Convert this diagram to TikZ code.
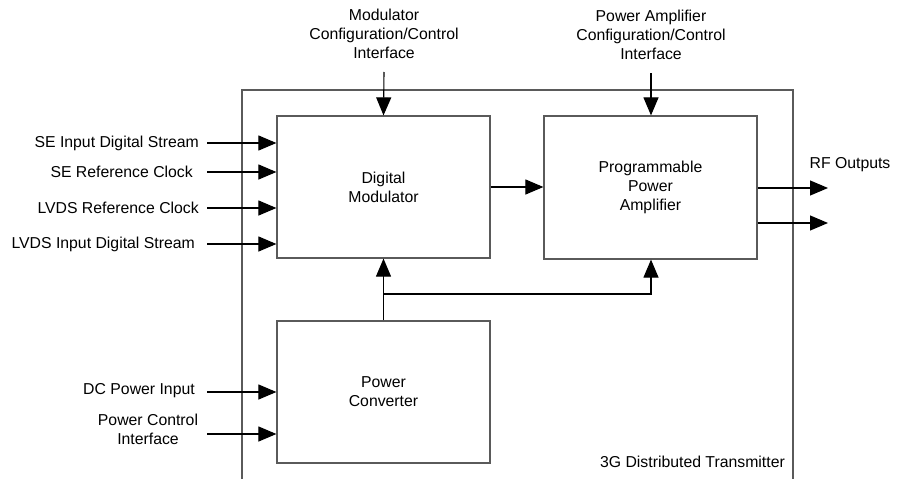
\documentclass[tikz,border=0pt]{standalone}
\usepackage{fontspec}
\setmainfont{Liberation Sans}
\usetikzlibrary{arrows.meta}
\definecolor{boxgray}{HTML}{5A5A5A}
\newcommand{\labelfont}{\fontsize{15.8}{19}\selectfont}
\begin{document}
\begin{tikzpicture}[x=1pt,y=-1pt,
  blk/.style={draw=boxgray, line width=1.2pt, minimum width=213pt,
    minimum height=142pt, inner sep=0pt, align=center, font=\labelfont},
  lbl/.style={inner sep=0pt, align=center, font=\labelfont},
  sig/.style={draw=black, line width=1.1pt,
    -{Triangle[length=18pt,width=15pt]}},
]
\useasboundingbox (0,0) rectangle (902,479);

% enclosure of the transmitter (open at the bottom)
\draw[boxgray, line width=1.2pt] (242,482) -- (242,90) -- (793,90) -- (793,482);
\node[lbl, anchor=east] (tx) at (785,462) {3G Distributed Transmitter};

% functional blocks
\node[blk] (dm) at (383.5,187) {Digital\\Modulator};
\node[blk, minimum height=143pt] (pa) at (650.5,187.5) {Programmable\\Power\\Amplifier};
\node[blk] (pc) at (383.5,392) {Power\\Converter};

% configuration interfaces
\node[lbl] (mci) at (384,34) {Modulator\\Configuration/Control\\Interface};
\coordinate (mcin) at (384,72);
\draw[sig] (mcin) -- (dm.north);
\node[lbl] (pci) at (651,35) {Power Amplifier\\Configuration/Control\\Interface};
\coordinate (pcin) at (651,73);
\draw[sig] (pcin) -- (pcin |- pa.north);

% modulator inputs
\node[lbl, anchor=east] (in1) at (199,143) {SE Input Digital Stream};
\node[lbl, anchor=east] (in2) at (193,172) {SE Reference Clock};
\node[lbl, anchor=east] (in3) at (199,208) {LVDS Reference Clock};
\node[lbl, anchor=east] (in4) at (195,244) {LVDS Input Digital Stream};
\foreach \y/\n in {143/1,172/2,208/3,244/4}{
  \coordinate (s\n) at (207,\y);
  \draw[sig] (s\n) -- (dm.west |- s\n);
}

% power converter inputs
\node[lbl] (dcin) at (139,391) {DC Power Input};
\node[lbl] (pwc) at (148,429) {Power Control\\Interface};
\coordinate (p1) at (207,392);
\coordinate (p2) at (207,434);
\draw[sig] (p1) -- (pc.west |- p1);
\draw[sig] (p2) -- (pc.west |- p2);

% signal path
\draw[sig] (dm.east) -- (dm.east -| pa.west);

% power distribution
\draw[sig] (pc.north) -- (dm.south);
\coordinate (br) at (383.5,294);
\draw[sig] (br) -| (pcin |- pa.south);

% RF outputs
\node[lbl] (rf) at (850,165) {RF Outputs};
\coordinate (o1) at (828,188);
\coordinate (o2) at (828,223);
\draw[sig] (pa.east |- o1) -- (o1);
\draw[sig] (pa.east |- o2) -- (o2);
\end{tikzpicture}
\end{document}
